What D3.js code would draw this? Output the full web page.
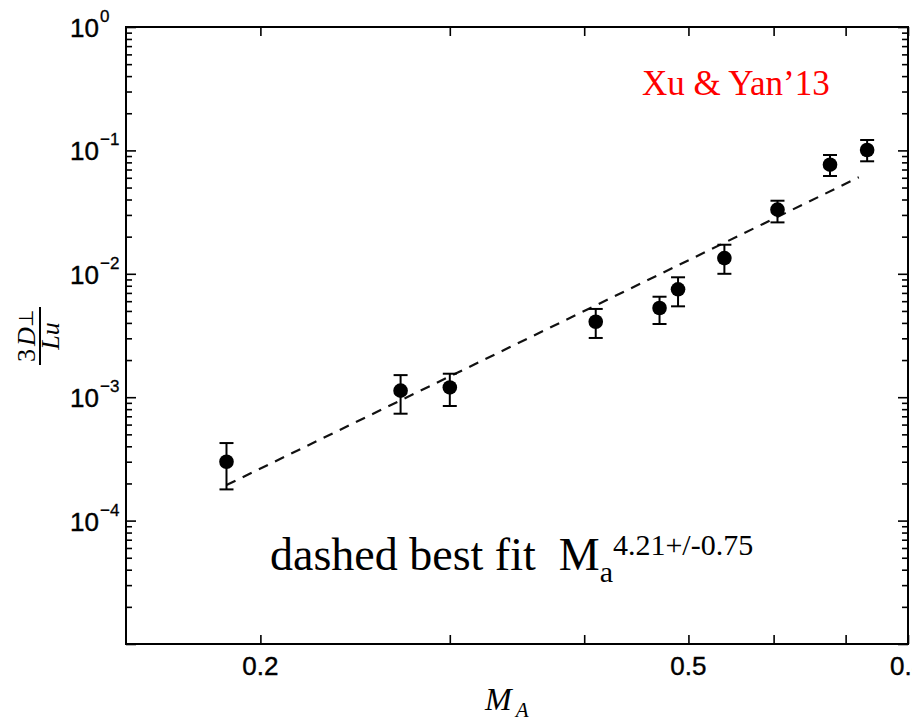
<!DOCTYPE html>
<html><head><meta charset="utf-8">
<script src="https://cdn.jsdelivr.net/npm/d3@7"></script>
<style>body{margin:0;background:#fff} svg{display:block}</style>
</head><body><svg id="c" width="912" height="720"></svg>
<script>
// ---- data ----
const machNumbers = [0.186, 0.270, 0.300, 0.410, 0.470, 0.489, 0.540, 0.605, 0.677, 0.733];
const diffusion   = [3.0e-4, 1.13e-3, 1.20e-3, 4.09e-3, 5.28e-3, 7.49e-3, 1.34e-2, 3.31e-2, 7.66e-2, 1.007e-1];
const errLow      = [1.79e-4, 7.35e-4, 8.49e-4, 3.02e-3, 3.92e-3, 5.45e-3, 1.00e-2, 2.61e-2, 6.2e-2, 8.16e-2];
const errHigh     = [4.25e-4, 1.51e-3, 1.55e-3, 5.19e-3, 6.52e-3, 9.37e-3, 1.72e-2, 3.91e-2, 9.18e-2, 1.214e-1];
const fitX = [0.186, 0.72];
const fitY = [1.94e-4, 6.05e-2];
const xTickValues = [0.2, 0.3, 0.4, 0.5, 0.6, 0.7, 0.8];
const xTickLabels = ["0.2", "", "", "0.5", "", "", "0.8"];
const yDecades = [1e0, 1e-1, 1e-2, 1e-3, 1e-4, 1e-5];
const yExponents = ["0", "\u22121", "\u22122", "\u22123", "\u22124", ""];

// ---- layout ----
const L = 126, R = 908, T = 27, B = 644;
const svg = d3.select("#c");
const x = d3.scaleLog().domain([0.15, 0.8]).range([L, R]);
const y = d3.scaleLog().domain([1e-5, 1]).range([B, T]);

const yMinor = [];
yDecades.slice(1).forEach(d => { for (let k = 2; k <= 9; k++) yMinor.push(d * k); });

function styleAxis(g) {
  g.select(".domain").remove();
  g.selectAll("line").attr("stroke", "#000").attr("stroke-width", 1.6);
  g.selectAll("text").remove();
}
svg.append("g").attr("transform", `translate(0,${B})`)
  .call(d3.axisBottom(x).tickValues(xTickValues).tickSize(-9).tickFormat("")).call(styleAxis);
svg.append("g").attr("transform", `translate(0,${T})`)
  .call(d3.axisTop(x).tickValues(xTickValues).tickSize(-9).tickFormat("")).call(styleAxis);
svg.append("g").attr("transform", `translate(${L},0)`)
  .call(d3.axisLeft(y).tickValues(yDecades).tickSize(-10).tickFormat("")).call(styleAxis);
svg.append("g").attr("transform", `translate(${L},0)`)
  .call(d3.axisLeft(y).tickValues(yMinor).tickSize(-6).tickFormat("")).call(styleAxis);
svg.append("g").attr("transform", `translate(${R},0)`)
  .call(d3.axisRight(y).tickValues(yDecades).tickSize(-10).tickFormat("")).call(styleAxis);
svg.append("g").attr("transform", `translate(${R},0)`)
  .call(d3.axisRight(y).tickValues(yMinor).tickSize(-6).tickFormat("")).call(styleAxis);

svg.append("rect").attr("x", L).attr("y", T).attr("width", R - L).attr("height", B - T)
  .attr("fill", "none").attr("stroke", "#000").attr("stroke-width", 2);

// tick labels
const sans = "'Liberation Sans', Arial, Helvetica, sans-serif";
svg.append("g").selectAll("text").data(xTickValues).join("text")
  .attr("x", d => x(d)).attr("y", 675).attr("text-anchor", "middle")
  .attr("font-family", sans).attr("font-size", 26).attr("fill", "#000")
  .attr("stroke", "#000").attr("stroke-width", 0.4)
  .text((d, i) => xTickLabels[i]);

const yl = svg.append("g").selectAll("g").data(yDecades.filter((d, i) => yExponents[i] !== "")).join("g");
yl.append("text").attr("x", 70).attr("y", d => y(d) + 10)
  .attr("font-family", sans).attr("font-size", 26).attr("fill", "#000")
  .attr("stroke", "#000").attr("stroke-width", 0.4).text("10");
yl.append("text").attr("x", 100).attr("y", d => y(d) - 5)
  .attr("font-family", sans).attr("font-size", 17).attr("fill", "#000")
  .attr("stroke", "#000").attr("stroke-width", 0.3)
  .text((d, i) => yExponents[i]);

// fit line
svg.append("path")
  .attr("d", d3.line().x(d => x(d[0])).y(d => y(d[1]))(fitX.map((v, i) => [v, fitY[i]])))
  .attr("fill", "none").attr("stroke", "#111").attr("stroke-width", 2.2)
  .attr("stroke-dasharray", "10,8");

// error bars + points
const pts = machNumbers.map((m, i) => ({ m, v: diffusion[i], lo: errLow[i], hi: errHigh[i] }));
const eg = svg.append("g").attr("stroke", "#000").attr("stroke-width", 2);
eg.selectAll(".v").data(pts).join("line")
  .attr("x1", d => x(d.m)).attr("x2", d => x(d.m)).attr("y1", d => y(d.lo)).attr("y2", d => y(d.hi));
eg.selectAll(".t").data(pts).join("line")
  .attr("x1", d => x(d.m) - 7).attr("x2", d => x(d.m) + 7).attr("y1", d => y(d.hi)).attr("y2", d => y(d.hi));
eg.selectAll(".b").data(pts).join("line")
  .attr("x1", d => x(d.m) - 7).attr("x2", d => x(d.m) + 7).attr("y1", d => y(d.lo)).attr("y2", d => y(d.lo));
svg.append("g").selectAll("circle").data(pts).join("circle")
  .attr("cx", d => x(d.m)).attr("cy", d => y(d.v)).attr("r", 7.3).attr("fill", "#000");

// axis titles
const serif = "'Liberation Serif', 'Times New Roman', serif";
const xt = svg.append("text").attr("x", 485).attr("y", 710).attr("font-family", serif)
  .attr("font-style", "italic").attr("font-size", 32).attr("fill", "#000");
xt.append("tspan").text("M");
xt.append("tspan").attr("font-size", 21).attr("dy", 7).attr("dx", 4).text("A");

const ytg = svg.append("g").attr("transform", "translate(40,336) rotate(-90)");
ytg.append("line").attr("x1", -29).attr("x2", 29).attr("y1", 0).attr("y2", 0)
  .attr("stroke", "#000").attr("stroke-width", 2);
const num = ytg.append("text").attr("x", 0).attr("y", -5).attr("text-anchor", "middle")
  .attr("font-family", serif).attr("font-size", 26).attr("fill", "#000");
num.append("tspan").text("3");
num.append("tspan").attr("font-style", "italic").attr("dx", 3).text("D");
num.append("tspan").attr("font-size", 20).attr("dy", -2).text("\u22A5");
ytg.append("text").attr("x", 0).attr("y", 19).attr("text-anchor", "middle")
  .attr("font-family", serif).attr("font-style", "italic").attr("font-size", 26)
  .attr("fill", "#000").text("Lu");

// annotations
svg.append("text").attr("x", 642).attr("y", 95).attr("font-family", serif)
  .attr("font-size", 35).attr("fill", "#ff0000").text("Xu & Yan\u201913");

const ann = svg.append("text").attr("x", 270).attr("y", 570).attr("font-family", serif)
  .attr("font-size", 46).attr("fill", "#000").style("white-space", "pre");
ann.append("tspan").text("dashed best fit  M");
ann.append("tspan").attr("font-size", 30).attr("dy", 12).text("a");
ann.append("tspan").attr("font-size", 30).attr("dy", -27).text("4.21+/-0.75");
</script>
</body></html>
